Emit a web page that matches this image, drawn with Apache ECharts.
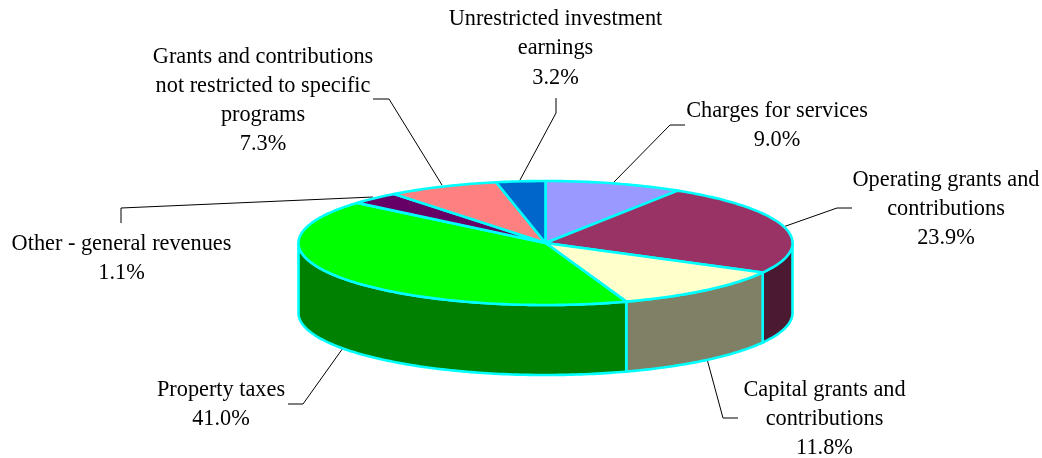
<!DOCTYPE html>
<html>
<head>
<meta charset="utf-8">
<style>html,body{margin:0;padding:0;background:#fff}#c{width:1042px;height:458px}</style>
<script src="https://cdn.jsdelivr.net/npm/echarts@6/dist/echarts.min.js"></script>
</head>
<body>
<div id="c"></div>
<script>
// Data
const categories = ['Charges for services','Operating grants and\ncontributions','Capital grants and\ncontributions','Property taxes','Other - general revenues','Grants and contributions\nnot restricted to specific\nprograms','Unrestricted investment\nearnings'];
const sliceShares = [9.0, 23.9, 11.8, 41.5, 3.3, 7.3, 3.2];
const percentLabels = ['9.0%','23.9%','11.8%','41.0%','1.1%','7.3%','3.2%'];

// Styling and layout (separate from data)
const topColors  = ['#9999FF','#993366','#FFFFCC','#00FF00','#660066','#FF8080','#0066CC'];
const wallColors = ['#4C4C80','#4C1933','#808066','#008000','#330033','#804040','#003366'];
const pie = {cx:545.5, cy:243, rx:247, ry:62, depth:70};
const labelLayout = [
  {x:777, y:96,  line:[[685,125],[670,125],[613,183]]},
  {x:946, y:165, line:[[852,208],[837,208],[783,227]]},
  {x:824.5, y:375, line:[[738,418],[723,418],[707,359]]},
  {x:221, y:375, line:[[288,404],[303,404],[343,348]]},
  {x:121.5, y:229.5, line:[[121,223],[121,208],[373,197]]},
  {x:263, y:42,  line:[[373,99],[389,99],[442,185]]},
  {x:555.5, y:4.5,   line:[[556,98],[556,113],[520,180]]}
];
const LH = 29.3;
const FONT = '22.3px "Liberation Serif", "Times New Roman", serif';
const total = sliceShares.reduce((a,b)=>a+b,0);
const starts = [];
sliceShares.reduce((acc,v,i)=>{starts[i]=acc;return acc+v;},0);

function pt(deg, dy){
  const r = deg*Math.PI/180;
  return [pie.cx+pie.rx*Math.sin(r), pie.cy-pie.ry*Math.cos(r)+(dy||0)];
}
function arcPts(a,b,dy){
  const n = Math.max(2,Math.ceil(Math.abs(b-a)));
  const out=[];
  for(let i=0;i<=n;i++) out.push(pt(a+(b-a)*i/n,dy));
  return out;
}

function renderWall(params, api){
  const i = params.dataIndex;
  const a0 = starts[i]/total*360, a1 = (starts[i]+api.value(0))/total*360;
  const a = Math.max(a0,90), b = Math.min(a1,270);
  if(b<=a) return {type:'group',children:[]};
  const pts = arcPts(a,b,0).concat(arcPts(b,a,pie.depth));
  return {type:'polygon',shape:{points:pts},
    style:{fill:wallColors[i],stroke:'#00FFFF',lineWidth:2.6,lineJoin:'round'}};
}
function renderTop(params, api){
  const i = params.dataIndex;
  const a0 = starts[i]/total*360, a1 = (starts[i]+api.value(0))/total*360;
  const pts = [[pie.cx,pie.cy]].concat(arcPts(a0,a1,0));
  return {type:'polygon',shape:{points:pts},
    style:{fill:topColors[i],stroke:'#00FFFF',lineWidth:2.6,lineJoin:'round'}};
}
function renderLabel(params, api){
  const i = params.dataIndex, L = labelLayout[i];
  return {type:'group',children:[
    {type:'polyline',shape:{points:L.line},style:{fill:null,stroke:'#000',lineWidth:1}},
    {type:'text',x:L.x,y:L.y,style:{text:categories[i]+'\n'+percentLabels[i],
      fill:'#000',align:'center',verticalAlign:'top',font:FONT,lineHeight:LH}}
  ]};
}

const chart = echarts.init(document.getElementById('c'),null,{renderer:'canvas'});
chart.setOption({
  animation:false,
  backgroundColor:'#fff',
  series:[
    {type:'custom',coordinateSystem:'none',silent:true,z:1,data:sliceShares,renderItem:renderLabel},
    {type:'custom',coordinateSystem:'none',silent:true,z:2,data:sliceShares,renderItem:renderWall},
    {type:'custom',coordinateSystem:'none',silent:true,z:3,data:sliceShares,renderItem:renderTop}
  ]
});
</script>
</body>
</html>
